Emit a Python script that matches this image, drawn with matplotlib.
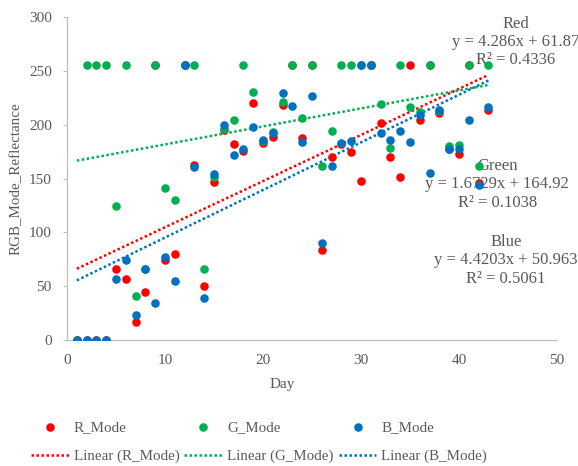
import numpy as np
import matplotlib.pyplot as plt

# data
days = list(range(1, 44))
r_mode = [0, 0, 0, 0, 66, 57, 17, 45, 255, 74, 80, 255, 163, 50, 147, 195, 182, 176, 220, 183, 189, 218,
          255, 188, 255, 84, 170, 182, 175, 148, 255, 202, 170, 151, 255, 204, 255, 211, 177, 173, 255, 146, 214]
g_mode = [0, 255, 255, 255, 124, 255, 41, 66, 255, 141, 130, 255, 255, 66, 151, 196, 204, 255, 230, 185, 193, 221,
          255, 206, 255, 162, 194, 255, 255, 255, 255, 219, 178, 255, 216, 212, 255, 213, 180, 181, 255, 162, 255]
b_mode = [0, 0, 0, 0, 57, 74, 23, 66, 34, 77, 55, 255, 161, 39, 154, 200, 172, 177, 198, 186, 192, 229,
          217, 184, 227, 90, 162, 183, 185, 255, 255, 192, 186, 194, 184, 209, 155, 214, 177, 177, 204, 144, 216]

# trendline coefficients as printed on the chart
slopes = [4.286, 1.6729, 4.4203]
intercepts = [61.87, 164.92, 50.963]
r2 = ['0.4336', '0.1038', '0.5061']
names = ['Red', 'Green', 'Blue']
eq_text = ['y = 4.286x + 61.87', 'y = 1.6729x + 164.92', 'y = 4.4203x + 50.963']

colors = ['#FF0000', '#00B050', '#0070C0']
gray = '#595959'

plt.rcParams['font.family'] = ['Liberation Serif', 'DejaVu Serif']

fig = plt.figure(figsize=(5.78, 4.66), dpi=100)
ax = fig.add_axes([0.116, 0.2704, 0.8477, 0.6931])

series = [r_mode, g_mode, b_mode]
labels = ['R_Mode', 'G_Mode', 'B_Mode']
handles = []
for i in range(3):
    sc = ax.scatter(days, series[i], s=38, color=colors[i], zorder=4 + i, label=labels[i], linewidths=0)
    xx = np.array([days[0], days[-1]], dtype=float)
    ln, = ax.plot(xx, slopes[i] * xx + intercepts[i], color=colors[i], lw=1.8,
                  linestyle=(0, (1, 1)), zorder=3, label='Linear (' + labels[i] + ')')
    handles.append(sc)
    handles.append(ln)

# trendline equations
txt_pos = [(45.8, 276.7), (43.9, 144.7), (44.8, 74.2)]
for i in range(3):
    ax.text(txt_pos[i][0], txt_pos[i][1], names[i] + '\n' + eq_text[i] + '\nR² = ' + r2[i],
            ha='center', va='center', multialignment='center', fontsize=12, color=gray,
            zorder=2, family=['Liberation Serif', 'DejaVu Serif'])

ax.set_xlim(0, 50)
ax.set_ylim(0, 300)
ax.set_xticks([0, 10, 20, 30, 40, 50])
ax.set_yticks([0, 50, 100, 150, 200, 250, 300])
ax.tick_params(axis='x', length=0, pad=10, labelsize=11, labelcolor=gray)
ax.tick_params(axis='y', length=3, width=0.8, color='#BFBFBF', pad=8, labelsize=11, labelcolor=gray)

for side in ['top', 'right']:
    ax.spines[side].set_visible(False)
for side in ['left', 'bottom']:
    ax.spines[side].set_color('#BFBFBF')
    ax.spines[side].set_linewidth(0.9)

ax.set_xlabel('Day', fontsize=11, color=gray)
ax.xaxis.set_label_coords(0.44, -0.118)
ax.set_ylabel('RGB_Mode_Reflectance', fontsize=10.8, color=gray)
ax.yaxis.set_label_coords(-0.09, 0.5)

leg = fig.legend(handles=handles, ncol=3, loc='center', bbox_to_anchor=(0.448, 0.0515),
                 frameon=False, fontsize=10.8, handlelength=2.53, handletextpad=0.33,
                 columnspacing=0.33, labelspacing=1.0, scatterpoints=1)
for t in leg.get_texts():
    t.set_color(gray)

fig.savefig('out.png', dpi=100)
